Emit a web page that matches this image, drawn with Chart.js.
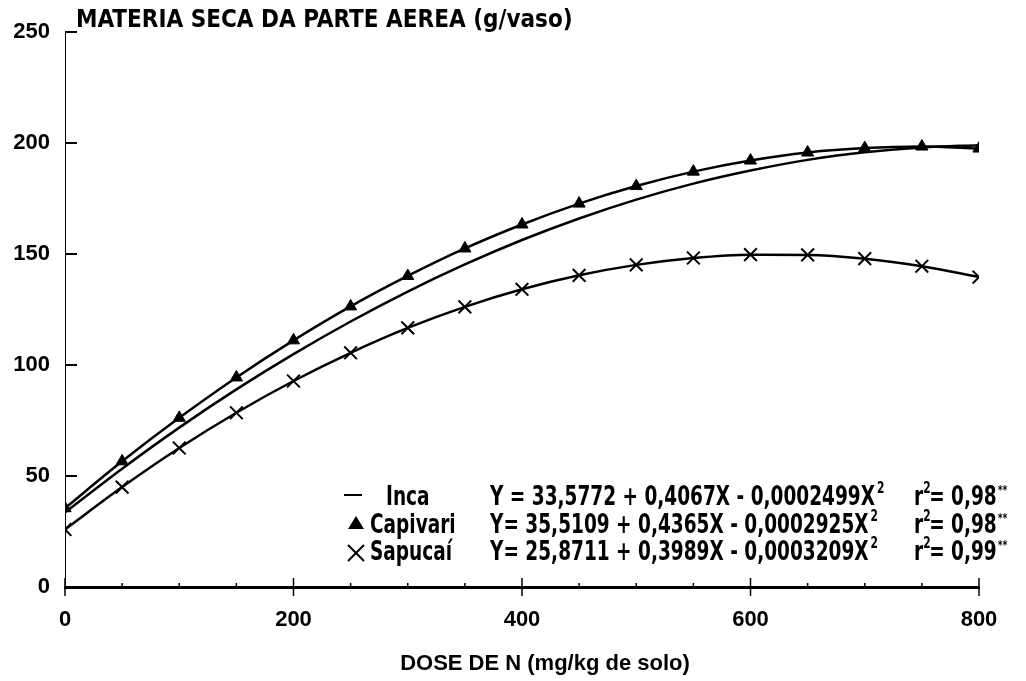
<!DOCTYPE html>
<html>
<head>
<meta charset="utf-8">
<script src="https://cdn.jsdelivr.net/npm/chart.js@4"></script>
<style>
  html, body { margin: 0; padding: 0; background: #fff; }
</style>
</head>
<body>
<canvas id="chart" width="1026" height="681"></canvas>
<script>
// dose de N (mg/kg de solo)
const doses = [0, 50, 100, 150, 200, 250, 300, 350, 400, 450, 500, 550, 600, 650, 700, 750, 800];

// materia seca da parte aerea (g/vaso)
const inca = [33.6, 53.3, 71.8, 89.0, 104.9, 119.6, 133.1, 145.3, 156.3, 166.0, 174.5, 181.7, 187.6, 192.4, 195.8, 198.0, 199.0];
const capivari = [35.5, 56.6, 76.2, 94.4, 111.1, 126.4, 140.1, 152.5, 163.3, 172.7, 180.6, 187.1, 192.1, 195.7, 197.7, 198.4, 197.5];
const sapucai = [25.9, 45.0, 62.6, 78.5, 92.8, 105.5, 116.7, 126.2, 134.1, 140.4, 145.1, 148.2, 149.7, 149.6, 147.9, 144.5, 139.6];

const seriesNames = ['Inca', 'Capivari', 'Sapucaí'];
const equations = [
  'Y = 33,5772 + 0,4067X - 0,0002499X',
  'Y= 35,5109 + 0,4365X - 0,0002925X',
  'Y= 25,8711 + 0,3989X - 0,0003209X'
];
const r2Values = ['0,98', '0,98', '0,99'];

const xTicks = [0, 200, 400, 600, 800];
const yTicks = [0, 50, 100, 150, 200, 250];

const yTitle = 'MATERIA SECA DA PARTE AEREA (g/vaso)';
const xTitle = 'DOSE DE N (mg/kg de solo)';

const tickFont = 'Liberation Sans, Arial, sans-serif';
const narrowFont = '"DejaVu Sans Condensed", "DejaVu Sans", sans-serif';

function toPoints(ys) {
  return doses.map((x, i) => ({ x: x, y: ys[i] }));
}

// text squeezed horizontally by sx, returns drawn width
function squeezed(ctx, text, x, y, font, sx) {
  ctx.save();
  ctx.font = font;
  ctx.translate(x, y);
  ctx.scale(sx, 1);
  ctx.fillText(text, 0, 0);
  const w = ctx.measureText(text).width * sx;
  ctx.restore();
  return w;
}

// axis ticks, titles and the equation legend
const decorations = {
  id: 'decorations',
  afterDraw(chart) {
    const ctx = chart.ctx;
    const xs = chart.scales.x;
    const ys = chart.scales.y;
    const left = chart.chartArea.left;
    const y0 = ys.getPixelForValue(0);

    ctx.save();
    ctx.strokeStyle = '#000';

    // y ticks point into the plot
    ctx.lineWidth = 2;
    yTicks.forEach(v => {
      const py = ys.getPixelForValue(v);
      ctx.beginPath();
      ctx.moveTo(left, py);
      ctx.lineTo(left + 12, py);
      ctx.stroke();
    });

    // x ticks cross the axis
    ctx.lineWidth = 1.5;
    doses.forEach(v => {
      const px = xs.getPixelForValue(v);
      const big = xTicks.includes(v);
      ctx.beginPath();
      ctx.moveTo(px, y0 - (big ? 9 : 4));
      ctx.lineTo(px, y0 + (big ? 9 : 0));
      ctx.stroke();
    });

    // titles
    ctx.fillStyle = '#000';
    ctx.textBaseline = 'middle';
    ctx.textAlign = 'left';
    ctx.font = 'bold 24px ' + narrowFont;
    ctx.fillText(yTitle, 76, 21);

    ctx.textAlign = 'center';
    ctx.font = 'bold 22px ' + tickFont;
    ctx.fillText(xTitle, 545, 664);

    // legend
    const big = 'bold 26px ' + narrowFont;
    const small = 'bold 15px ' + narrowFont;
    ctx.textAlign = 'left';
    ctx.font = big;
    const sx = 385 / ctx.measureText(equations[0]).width;
    const rowY = [498, 526, 553];
    rowY.forEach((ry, i) => {
      // marker
      if (i === 0) {
        ctx.lineWidth = 2;
        ctx.beginPath();
        ctx.moveTo(344, ry - 3);
        ctx.lineTo(362, ry - 3);
        ctx.stroke();
      } else if (i === 1) {
        ctx.beginPath();
        ctx.moveTo(356, ry - 10);
        ctx.lineTo(364, ry + 3);
        ctx.lineTo(348, ry + 3);
        ctx.closePath();
        ctx.fill();
      } else {
        ctx.lineWidth = 2;
        ctx.beginPath();
        ctx.moveTo(348, ry - 8);
        ctx.lineTo(364, ry + 8);
        ctx.moveTo(364, ry - 8);
        ctx.lineTo(348, ry + 8);
        ctx.stroke();
      }
      squeezed(ctx, seriesNames[i], i === 0 ? 386 : 370, ry, big, sx);

      // equation with squared X
      const w = squeezed(ctx, equations[i], 490, ry, big, sx);
      squeezed(ctx, '2', 490 + w + 2, ry - 9, small, sx);

      // r squared
      let x = 914;
      x += squeezed(ctx, 'r', x, ry, big, sx);
      squeezed(ctx, '2', x, ry - 9, small, sx);
      x += 6;
      x += squeezed(ctx, '= ' + r2Values[i], x, ry, big, sx);
      squeezed(ctx, '**', x + 1, ry - 7, 'bold 13px ' + narrowFont, sx);
    });
    ctx.restore();
  }
};

new Chart(document.getElementById('chart'), {
  type: 'line',
  data: {
    datasets: [
      {
        label: seriesNames[0],
        data: toPoints(inca),
        borderColor: '#000',
        backgroundColor: '#000',
        borderWidth: 2.5,
        pointRadius: 0,
        cubicInterpolationMode: 'monotone'
      },
      {
        label: seriesNames[1],
        data: toPoints(capivari),
        borderColor: '#000',
        backgroundColor: '#000',
        borderWidth: 2.5,
        pointStyle: 'triangle',
        pointRadius: 7,
        pointBorderWidth: 1,
        cubicInterpolationMode: 'monotone'
      },
      {
        label: seriesNames[2],
        data: toPoints(sapucai),
        borderColor: '#000',
        backgroundColor: '#000',
        borderWidth: 2.5,
        pointStyle: 'crossRot',
        pointRadius: 9,
        pointBorderWidth: 2,
        cubicInterpolationMode: 'monotone'
      }
    ]
  },
  options: {
    responsive: false,
    animation: false,
    layout: { padding: { top: 32, right: 47, left: 0, bottom: 0 } },
    plugins: {
      legend: { display: false },
      tooltip: { enabled: false }
    },
    scales: {
      x: {
        type: 'linear',
        min: 0,
        max: 800,
        afterFit: s => { s.height = 94; },
        afterBuildTicks: s => { s.ticks = xTicks.map(v => ({ value: v })); },
        grid: { display: false, drawTicks: false },
        border: { display: true, color: '#000', width: 3 },
        ticks: {
          color: '#000',
          padding: 20,
          maxRotation: 0,
          font: { family: tickFont, size: 22, weight: 'bold' }
        }
      },
      y: {
        min: 0,
        max: 250,
        afterFit: s => { s.width = 65; },
        afterBuildTicks: s => { s.ticks = yTicks.map(v => ({ value: v })); },
        grid: { display: false, drawTicks: false },
        border: { display: true, color: '#000', width: 1, dash: [4, 3] },
        ticks: {
          color: '#000',
          padding: 15,
          font: { family: tickFont, size: 22, weight: 'bold' }
        }
      }
    }
  },
  plugins: [decorations]
});
</script>
</body>
</html>
